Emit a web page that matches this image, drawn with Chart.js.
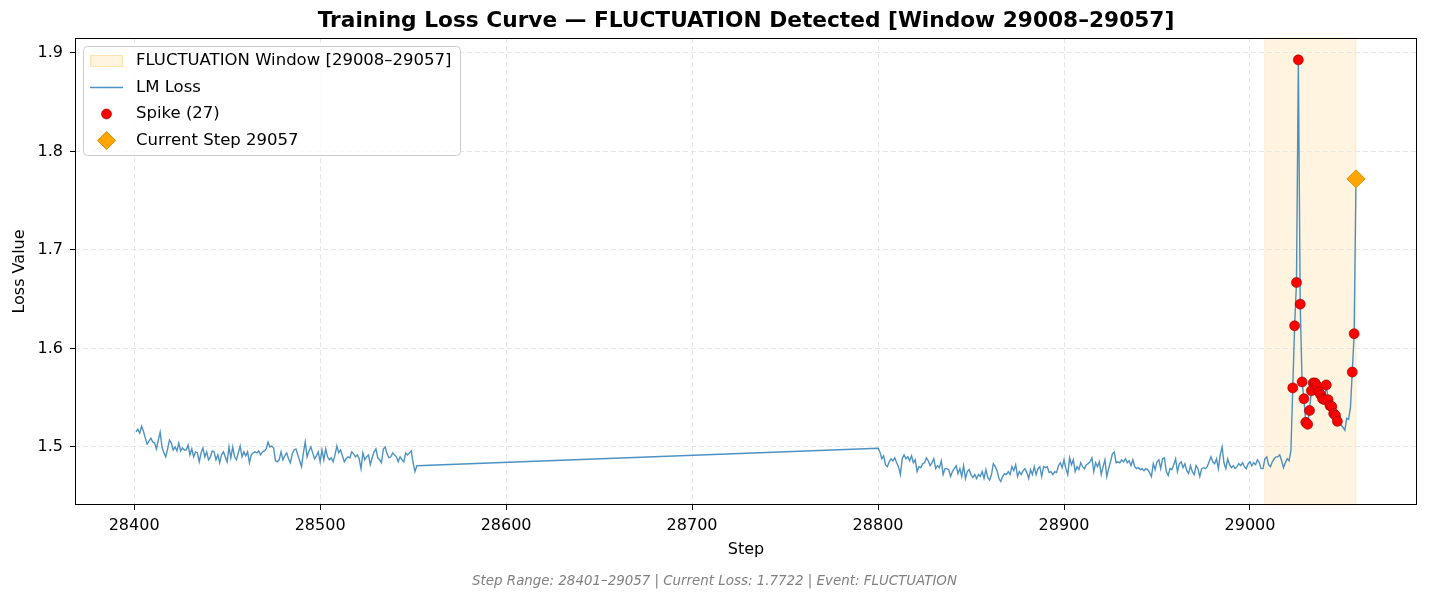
<!DOCTYPE html>
<html lang="en">
<head>
<meta charset="UTF-8">
<title>Training Loss Curve</title>
<script src="https://cdn.jsdelivr.net/npm/chart.js@4.4.1/dist/chart.umd.min.js"></script>
<style>
    body {margin:0;padding:0;background:#fff;}
    #wrap {width:1429px;height:602px;}
</style>
</head>
<body>
<div id="wrap"><canvas id="lossChart"></canvas></div>
<script>
    // values
    const firstStart = 28401;
    const lossFirst = [
        1.5155, 1.518, 1.514, 1.521, 1.516, 1.509, 1.503, 1.506, 1.509, 1.505,
        1.504, 1.498, 1.507, 1.515, 1.500, 1.494, 1.490, 1.498, 1.507, 1.504,
        1.497, 1.500, 1.496,
        1.504, 1.496, 1.499, 1.497, 1.497, 1.502, 1.492, 1.498, 1.490, 1.495,
        1.494, 1.485, 1.494, 1.499, 1.490, 1.495, 1.487, 1.490, 1.496, 1.495,
        1.487, 1.492, 1.484, 1.492, 1.495, 1.490, 1.485, 1.500, 1.489, 1.500,
        1.490, 1.487, 1.494, 1.501, 1.490, 1.495, 1.491, 1.495, 1.484, 1.492,
        1.494, 1.495, 1.494, 1.496, 1.492, 1.495, 1.496, 1.498, 1.505, 1.500,
        1.501, 1.499,
        1.486, 1.485, 1.487, 1.495, 1.487, 1.491, 1.494, 1.488, 1.484, 1.493,
        1.497, 1.498, 1.492, 1.486, 1.480, 1.494, 1.505, 1.490, 1.496, 1.500,
        1.494, 1.488, 1.491, 1.495, 1.485, 1.497, 1.487, 1.498, 1.490, 1.487,
        1.489, 1.485, 1.492, 1.501, 1.494, 1.497, 1.491, 1.485, 1.488, 1.490,
        1.489, 1.495, 1.493, 1.490, 1.492, 1.488, 1.478, 1.494, 1.487, 1.490,
        1.492, 1.482, 1.489, 1.495, 1.498, 1.489, 1.487, 1.484, 1.498, 1.500,
        1.493, 1.489, 1.490, 1.494, 1.492, 1.490, 1.485, 1.490, 1.487, 1.485,
        1.494, 1.492, 1.494, 1.496, 1.484, 1.475, 1.481
    ];
    const secondStart = 28800;
    const lossSecond = [
        1.4987, 1.495, 1.488, 1.491, 1.482, 1.480, 1.485, 1.488, 1.486, 1.489,
        1.484, 1.480, 1.472, 1.488, 1.492, 1.488, 1.490, 1.486, 1.491, 1.484,
        1.487, 1.475, 1.480, 1.479, 1.483, 1.484, 1.489, 1.486, 1.481, 1.484,
        1.488, 1.478, 1.481, 1.479, 1.486, 1.472, 1.478, 1.478, 1.477, 1.470,
        1.475, 1.478, 1.481, 1.473, 1.478, 1.470, 1.481, 1.468, 1.475, 1.477,
        1.472, 1.469, 1.472, 1.468, 1.472, 1.470, 1.475, 1.468, 1.477, 1.469,
        1.4665, 1.472, 1.483, 1.480, 1.476, 1.468, 1.465, 1.470, 1.473,
        1.472, 1.475, 1.472, 1.480, 1.476, 1.482, 1.470, 1.475, 1.472, 1.476,
        1.478, 1.474, 1.468, 1.477, 1.472, 1.480, 1.472, 1.478, 1.480, 1.470,
        1.480, 1.479, 1.480, 1.474, 1.475, 1.472, 1.475, 1.474, 1.481, 1.484,
        1.479, 1.487, 1.478, 1.472, 1.489, 1.482, 1.487, 1.475, 1.480, 1.477,
        1.484, 1.480, 1.478, 1.482, 1.483, 1.485, 1.489, 1.475, 1.484, 1.480,
        1.485, 1.472, 1.480, 1.487, 1.470, 1.478, 1.485, 1.493, 1.495, 1.484,
        1.485, 1.484, 1.487, 1.485, 1.488, 1.484, 1.486, 1.481, 1.487, 1.480,
        1.478, 1.479,
        1.477, 1.478, 1.476, 1.478, 1.477, 1.474, 1.470, 1.483, 1.477, 1.485,
        1.487, 1.478, 1.488, 1.489, 1.475, 1.471, 1.478, 1.477, 1.482, 1.488,
        1.475, 1.483, 1.485, 1.479, 1.483, 1.476, 1.473, 1.481, 1.475, 1.472,
        1.481, 1.478, 1.470, 1.478, 1.479, 1.478, 1.480, 1.485, 1.490, 1.485,
        1.483, 1.488, 1.478, 1.492, 1.500, 1.484, 1.478, 1.488, 1.482, 1.479,
        1.481, 1.478, 1.480, 1.483, 1.481, 1.484, 1.480, 1.478, 1.483, 1.485,
        1.481, 1.484, 1.482, 1.487, 1.484, 1.478, 1.478, 1.488, 1.490, 1.482,
        1.480, 1.485, 1.488, 1.490,
        1.490, 1.492, 1.486, 1.479, 1.484, 1.488, 1.486, 1.496,
        1.560, 1.623, 1.667, 1.893, 1.645, 1.566, 1.549, 1.525, 1.523, 1.537,
        1.557, 1.565, 1.565, 1.562, 1.556, 1.553, 1.549, 1.548, 1.563, 1.548,
        1.542, 1.541, 1.534, 1.532, 1.526,
        1.527, 1.522, 1.520, 1.517, 1.529, 1.528, 1.540, 1.576, 1.615, 1.7722
    ];
    const spikeSteps = [
        29023, 29024, 29025, 29026, 29027, 29028, 29029, 29030, 29031, 29032,
        29033, 29034, 29035, 29036, 29037, 29038, 29039, 29040, 29041, 29042,
        29043, 29044, 29045, 29046, 29047, 29055, 29056
    ];
    const currentStep = 29057;
    const currentLoss = 1.7722;
    const windowStart = 29008;
    const windowEnd = 29057;
    const xTicks = [28400, 28500, 28600, 28700, 28800, 28900, 29000];
    const yTicks = [1.5, 1.6, 1.7, 1.8, 1.9];

    let lossPoints = [];
    lossFirst.forEach((v, i) => lossPoints.push({x: firstStart + i, y: v}));
    lossSecond.forEach((v, i) => lossPoints.push({x: secondStart + i, y: v}));
    let lossAt = {};
    lossPoints.forEach((p) => { lossAt[p.x] = p.y; });
    let spikePoints = spikeSteps.map((s) => ({x: s, y: lossAt[s]}));

    const FONT = '"DejaVu Sans", Verdana, sans-serif';
    const LINE_COLOR = 'rgba(31, 119, 180, 0.8)';

    function roundRect(ctx, x, y, w, h, r) {
        ctx.beginPath();
        ctx.moveTo(x + r, y);
        ctx.lineTo(x + w - r, y);
        ctx.arcTo(x + w, y, x + w, y + r, r);
        ctx.lineTo(x + w, y + h - r);
        ctx.arcTo(x + w, y + h, x + w - r, y + h, r);
        ctx.lineTo(x + r, y + h);
        ctx.arcTo(x, y + h, x, y + h - r, r);
        ctx.lineTo(x, y + r);
        ctx.arcTo(x, y, x + r, y, r);
        ctx.closePath();
    }

    const decorations = {
        id: 'decorations',
        beforeDraw(chart) {
            // anomaly window shading, under the grid like axvspan
            const {ctx, chartArea: a, scales: {x}} = chart;
            const x0 = x.getPixelForValue(windowStart);
            const x1 = x.getPixelForValue(windowEnd);
            ctx.save();
            ctx.fillStyle = 'rgba(255, 165, 0, 0.12)';
            ctx.fillRect(x0, a.top, x1 - x0, a.bottom - a.top);
            ctx.strokeStyle = 'rgba(255, 165, 0, 0.18)';
            ctx.lineWidth = 1;
            ctx.strokeRect(x0, a.top, x1 - x0, a.bottom - a.top);
            ctx.restore();
        },
        afterDraw(chart) {
            const {ctx, chartArea: a} = chart;
            ctx.save();
            // frame
            ctx.strokeStyle = '#000';
            ctx.lineWidth = 1;
            ctx.strokeRect(a.left + 0.5, a.top + 0.5, a.right - a.left - 1, a.bottom - a.top - 1);

            // title
            ctx.fillStyle = '#000';
            ctx.textAlign = 'center';
            ctx.textBaseline = 'middle';
            ctx.font = 'bold 21.7px ' + FONT;
            ctx.fillText('Training Loss Curve \u2014 FLUCTUATION Detected [Window 29008\u201329057]', (a.left + a.right) / 2, 21);

            // axis titles
            ctx.font = '16px ' + FONT;
            ctx.fillText('Step', (a.left + a.right) / 2, 550);
            ctx.save();
            ctx.translate(20, (a.top + a.bottom) / 2);
            ctx.rotate(-Math.PI / 2);
            ctx.fillText('Loss Value', 0, 0);
            ctx.restore();

            // footer note
            ctx.font = 'italic 13.4px ' + FONT;
            ctx.fillStyle = '#808080';
            ctx.fillText('Step Range: 28401\u201329057 | Current Loss: 1.7722 | Event: FLUCTUATION', 714.5, 582);

            // legend
            roundRect(ctx, 83.5, 46.5, 377, 109, 4);
            ctx.fillStyle = 'rgba(255, 255, 255, 0.8)';
            ctx.fill();
            ctx.strokeStyle = '#cccccc';
            ctx.stroke();

            const rows = [61, 87.5, 114, 140.5];
            ctx.fillStyle = 'rgba(255, 165, 0, 0.12)';
            ctx.fillRect(90, rows[0] - 6, 33, 12);
            ctx.strokeStyle = 'rgba(255, 165, 0, 0.22)';
            ctx.strokeRect(90.5, rows[0] - 5.5, 32, 11);

            ctx.strokeStyle = LINE_COLOR;
            ctx.lineWidth = 1.5;
            ctx.beginPath();
            ctx.moveTo(90, rows[1]);
            ctx.lineTo(123, rows[1]);
            ctx.stroke();

            ctx.beginPath();
            ctx.arc(106.5, rows[2], 5, 0, Math.PI * 2);
            ctx.fillStyle = '#ff0000';
            ctx.fill();
            ctx.strokeStyle = '#8b0000';
            ctx.lineWidth = 0.6;
            ctx.stroke();

            ctx.beginPath();
            ctx.moveTo(106.5, rows[3] - 9);
            ctx.lineTo(115.5, rows[3]);
            ctx.lineTo(106.5, rows[3] + 9);
            ctx.lineTo(97.5, rows[3]);
            ctx.closePath();
            ctx.fillStyle = '#ffa500';
            ctx.fill();
            ctx.strokeStyle = '#e08e00';
            ctx.lineWidth = 1;
            ctx.stroke();

            ctx.fillStyle = '#000';
            ctx.textAlign = 'left';
            ctx.font = '16.5px ' + FONT;
            ctx.fillText('FLUCTUATION Window [29008\u201329057]', 136, rows[0]);
            ctx.fillText('LM Loss', 136, rows[1]);
            ctx.fillText('Spike (' + spikeSteps.length + ')', 136, rows[2]);
            ctx.fillText('Current Step ' + currentStep, 136, rows[3]);
            ctx.restore();
        }
    };

    Chart.defaults.font.family = FONT;
    Chart.defaults.color = '#000';

    let ctx = document.getElementById('lossChart');
    let lossChart = new Chart(ctx, {
        type: 'line',
        data: {
            datasets: [{
                label: 'LM Loss',
                data: lossPoints,
                borderColor: LINE_COLOR,
                borderWidth: 1.4,
                pointRadius: 0,
                tension: 0,
                order: 3
            }, {
                label: 'Spike (27)',
                data: spikePoints,
                showLine: false,
                pointRadius: 5,
                pointBackgroundColor: '#ff0000',
                pointBorderColor: '#8b0000',
                pointBorderWidth: 0.6,
                order: 2
            }, {
                label: 'Current Step ' + currentStep,
                data: [{x: currentStep, y: currentLoss}],
                showLine: false,
                pointStyle: 'rectRot',
                pointRadius: 9,
                pointBackgroundColor: '#ffa500',
                pointBorderColor: '#e08e00',
                pointBorderWidth: 1,
                order: 1
            }]
        },
        options: {
            responsive: true,
            maintainAspectRatio: false,
            animation: false,
            events: [],
            layout: {padding: {top: 38, right: 12, bottom: 0, left: 0}},
            plugins: {
                legend: {display: false},
                title: {display: false},
                tooltip: {enabled: false}
            },
            scales: {
                x: {
                    type: 'linear',
                    min: 28368.2,
                    max: 29089.8,
                    afterBuildTicks: (s) => { s.ticks = xTicks.map((v) => ({value: v})); },
                    afterFit: (s) => { s.height = 97; },
                    grid: {color: '#e6e6e6', lineWidth: 1, tickColor: '#000', tickLength: 5, tickWidth: 1, tickBorderDash: []},
                    border: {display: false, dash: [5, 3]},
                    ticks: {
                        font: {size: 16},
                        color: '#000',
                        padding: 6,
                        maxRotation: 0,
                        callback: (v) => String(v)
                    }
                },
                y: {
                    type: 'linear',
                    min: 1.4411,
                    max: 1.9152,
                    afterBuildTicks: (s) => { s.ticks = yTicks.map((v) => ({value: v})); },
                    afterFit: (s) => { s.width = 75; },
                    grid: {color: '#e6e6e6', lineWidth: 1, tickColor: '#000', tickLength: 5, tickWidth: 1, tickBorderDash: []},
                    border: {display: false, dash: [5, 3]},
                    ticks: {
                        font: {size: 16},
                        color: '#000',
                        padding: 7,
                        callback: (v) => v.toFixed(1)
                    }
                }
            }
        },
        plugins: [decorations]
    });
</script>
</body>
</html>
